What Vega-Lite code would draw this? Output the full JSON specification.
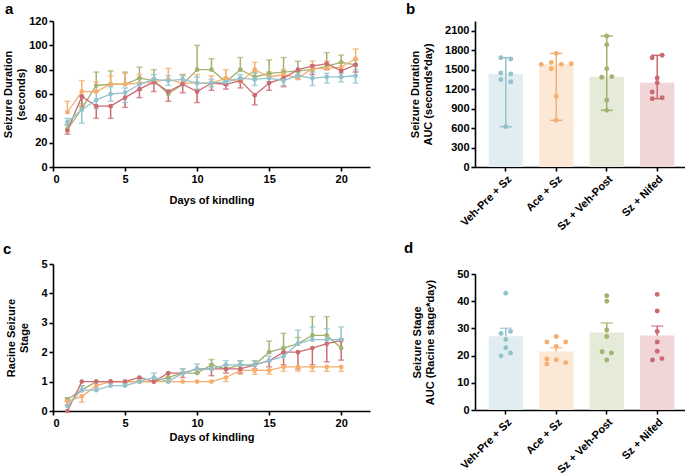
{
 "$schema": "https://vega.github.io/schema/vega-lite/v6.json",
 "padding": {"left": 2, "top": 2, "right": 0, "bottom": 0},
 "background": "white",
 "datasets": {
  "dur": [
   {"g":"Sz + Veh-Post","day":1,"m":31,"up":35},{"g":"Sz + Veh-Post","day":2,"m":48,"up":52},{"g":"Sz + Veh-Post","day":3,"m":67,"up":78},{"g":"Sz + Veh-Post","day":4,"m":68,"up":79},{"g":"Sz + Veh-Post","day":5,"m":68,"up":78},{"g":"Sz + Veh-Post","day":6,"m":73,"up":82},{"g":"Sz + Veh-Post","day":7,"m":71,"up":80},{"g":"Sz + Veh-Post","day":8,"m":60,"up":63},{"g":"Sz + Veh-Post","day":9,"m":68,"up":76},{"g":"Sz + Veh-Post","day":10,"m":80,"up":100},{"g":"Sz + Veh-Post","day":11,"m":80,"up":89},{"g":"Sz + Veh-Post","day":12,"m":70,"up":73},{"g":"Sz + Veh-Post","day":13,"m":80,"up":90},{"g":"Sz + Veh-Post","day":14,"m":74,"up":78},{"g":"Sz + Veh-Post","day":15,"m":77,"up":88},{"g":"Sz + Veh-Post","day":16,"m":78,"up":90},{"g":"Sz + Veh-Post","day":17,"m":79,"up":87},{"g":"Sz + Veh-Post","day":18,"m":80,"up":84},{"g":"Sz + Veh-Post","day":19,"m":83,"up":94},{"g":"Sz + Veh-Post","day":20,"m":86,"up":92},{"g":"Sz + Veh-Post","day":21,"m":84,"up":88},
   {"g":"Ace + Sz","day":1,"m":45,"up":54},{"g":"Ace + Sz","day":2,"m":62,"up":71},{"g":"Ace + Sz","day":3,"m":62,"up":70},{"g":"Ace + Sz","day":4,"m":68,"up":75},{"g":"Ace + Sz","day":5,"m":68,"up":77},{"g":"Ace + Sz","day":6,"m":69,"up":76},{"g":"Ace + Sz","day":7,"m":70,"up":73},{"g":"Ace + Sz","day":8,"m":72,"up":81},{"g":"Ace + Sz","day":9,"m":69,"up":76},{"g":"Ace + Sz","day":10,"m":69,"up":76},{"g":"Ace + Sz","day":11,"m":69,"up":75},{"g":"Ace + Sz","day":12,"m":73,"up":80},{"g":"Ace + Sz","day":13,"m":70,"up":73},{"g":"Ace + Sz","day":14,"m":80,"up":86},{"g":"Ace + Sz","day":15,"m":74,"up":78},{"g":"Ace + Sz","day":16,"m":76,"up":80},{"g":"Ace + Sz","day":17,"m":73,"up":76},{"g":"Ace + Sz","day":18,"m":81,"up":87},{"g":"Ace + Sz","day":19,"m":81,"up":87},{"g":"Ace + Sz","day":20,"m":82,"up":86},{"g":"Ace + Sz","day":21,"m":89,"up":97},
   {"g":"Sz + Nifed","day":1,"m":30,"dn":27},{"g":"Sz + Nifed","day":2,"m":58,"dn":50},{"g":"Sz + Nifed","day":3,"m":50,"dn":40},{"g":"Sz + Nifed","day":4,"m":50,"dn":40},{"g":"Sz + Nifed","day":5,"m":57,"dn":49},{"g":"Sz + Nifed","day":6,"m":64,"dn":57},{"g":"Sz + Nifed","day":7,"m":70,"dn":62},{"g":"Sz + Nifed","day":8,"m":62,"dn":54},{"g":"Sz + Nifed","day":9,"m":68,"dn":61},{"g":"Sz + Nifed","day":10,"m":62,"dn":53},{"g":"Sz + Nifed","day":11,"m":69,"dn":63},{"g":"Sz + Nifed","day":12,"m":68,"dn":64},{"g":"Sz + Nifed","day":13,"m":71,"dn":65},{"g":"Sz + Nifed","day":14,"m":59,"dn":51},{"g":"Sz + Nifed","day":15,"m":69,"dn":63},{"g":"Sz + Nifed","day":16,"m":73,"dn":66},{"g":"Sz + Nifed","day":17,"m":80,"dn":75},{"g":"Sz + Nifed","day":18,"m":83,"dn":76},{"g":"Sz + Nifed","day":19,"m":85,"dn":80},{"g":"Sz + Nifed","day":20,"m":79,"dn":74},{"g":"Sz + Nifed","day":21,"m":84,"dn":78},
   {"g":"Veh-Pre + Sz","day":1,"m":37,"up":40,"dn":34},{"g":"Veh-Pre + Sz","day":2,"m":47,"up":58,"dn":36},{"g":"Veh-Pre + Sz","day":3,"m":55,"up":62,"dn":48},{"g":"Veh-Pre + Sz","day":4,"m":60,"up":66,"dn":54},{"g":"Veh-Pre + Sz","day":5,"m":61,"up":65,"dn":53},{"g":"Veh-Pre + Sz","day":6,"m":68,"up":73,"dn":63},{"g":"Veh-Pre + Sz","day":7,"m":72,"up":76,"dn":68},{"g":"Veh-Pre + Sz","day":8,"m":71,"up":75,"dn":67},{"g":"Veh-Pre + Sz","day":9,"m":72,"up":75,"dn":69},{"g":"Veh-Pre + Sz","day":10,"m":69,"up":74,"dn":64},{"g":"Veh-Pre + Sz","day":11,"m":69,"up":72,"dn":66},{"g":"Veh-Pre + Sz","day":12,"m":70,"up":73,"dn":67},{"g":"Veh-Pre + Sz","day":13,"m":73,"up":76,"dn":70},{"g":"Veh-Pre + Sz","day":14,"m":72,"up":77,"dn":67},{"g":"Veh-Pre + Sz","day":15,"m":73,"up":76,"dn":70},{"g":"Veh-Pre + Sz","day":16,"m":71,"up":75,"dn":67},{"g":"Veh-Pre + Sz","day":17,"m":75,"up":78,"dn":72},{"g":"Veh-Pre + Sz","day":18,"m":73,"up":78,"dn":67},{"g":"Veh-Pre + Sz","day":19,"m":74,"up":77,"dn":69},{"g":"Veh-Pre + Sz","day":20,"m":74,"up":77,"dn":70},{"g":"Veh-Pre + Sz","day":21,"m":75,"up":80,"dn":69}
  ],
  "stage": [
   {"g":"Sz + Veh-Post","day":1,"m":0.40,"up":0.45},{"g":"Sz + Veh-Post","day":2,"m":0.71,"up":0.86},{"g":"Sz + Veh-Post","day":3,"m":1.0},{"g":"Sz + Veh-Post","day":4,"m":1.0},{"g":"Sz + Veh-Post","day":5,"m":1.0},{"g":"Sz + Veh-Post","day":6,"m":1.0},{"g":"Sz + Veh-Post","day":7,"m":1.0},{"g":"Sz + Veh-Post","day":8,"m":1.14,"up":1.29},{"g":"Sz + Veh-Post","day":9,"m":1.29,"up":1.43},{"g":"Sz + Veh-Post","day":10,"m":1.29,"up":1.43},{"g":"Sz + Veh-Post","day":11,"m":1.57,"up":1.75},{"g":"Sz + Veh-Post","day":12,"m":1.43,"up":1.57},{"g":"Sz + Veh-Post","day":13,"m":1.57,"up":1.71},{"g":"Sz + Veh-Post","day":14,"m":1.57,"up":1.71},{"g":"Sz + Veh-Post","day":15,"m":2.0,"up":2.38},{"g":"Sz + Veh-Post","day":16,"m":2.14,"up":2.64},{"g":"Sz + Veh-Post","day":17,"m":2.29,"up":2.5},{"g":"Sz + Veh-Post","day":18,"m":2.57,"up":3.21},{"g":"Sz + Veh-Post","day":19,"m":2.57,"up":3.21},{"g":"Sz + Veh-Post","day":20,"m":2.14,"up":2.45},
   {"g":"Ace + Sz","day":1,"m":0.33,"dn":0.2},{"g":"Ace + Sz","day":2,"m":0.5,"dn":0.3},{"g":"Ace + Sz","day":3,"m":0.86},{"g":"Ace + Sz","day":4,"m":1.0},{"g":"Ace + Sz","day":5,"m":1.0},{"g":"Ace + Sz","day":6,"m":1.0},{"g":"Ace + Sz","day":7,"m":1.0},{"g":"Ace + Sz","day":8,"m":1.0},{"g":"Ace + Sz","day":9,"m":1.0},{"g":"Ace + Sz","day":10,"m":1.0},{"g":"Ace + Sz","day":11,"m":1.0},{"g":"Ace + Sz","day":12,"m":1.14,"dn":1.0},{"g":"Ace + Sz","day":13,"m":1.38,"dn":1.25},{"g":"Ace + Sz","day":14,"m":1.38,"dn":1.25},{"g":"Ace + Sz","day":15,"m":1.38,"dn":1.25},{"g":"Ace + Sz","day":16,"m":1.5,"dn":1.35},{"g":"Ace + Sz","day":17,"m":1.5,"dn":1.35},{"g":"Ace + Sz","day":18,"m":1.5,"dn":1.35},{"g":"Ace + Sz","day":19,"m":1.5,"dn":1.35},{"g":"Ace + Sz","day":20,"m":1.5,"dn":1.35},
   {"g":"Sz + Nifed","day":1,"m":0.0},{"g":"Sz + Nifed","day":2,"m":1.0},{"g":"Sz + Nifed","day":3,"m":1.0},{"g":"Sz + Nifed","day":4,"m":1.0},{"g":"Sz + Nifed","day":5,"m":1.0},{"g":"Sz + Nifed","day":6,"m":1.14,"dn":1.0},{"g":"Sz + Nifed","day":7,"m":1.0},{"g":"Sz + Nifed","day":8,"m":1.29,"dn":1.14},{"g":"Sz + Nifed","day":9,"m":1.29,"dn":1.14},{"g":"Sz + Nifed","day":10,"m":1.43,"dn":1.29},{"g":"Sz + Nifed","day":11,"m":1.43,"dn":1.2},{"g":"Sz + Nifed","day":12,"m":1.43,"dn":1.29},{"g":"Sz + Nifed","day":13,"m":1.43,"dn":1.29},{"g":"Sz + Nifed","day":14,"m":1.57,"dn":1.43},{"g":"Sz + Nifed","day":15,"m":1.71,"dn":1.5},{"g":"Sz + Nifed","day":16,"m":2.0,"dn":1.57},{"g":"Sz + Nifed","day":17,"m":2.0,"dn":1.43},{"g":"Sz + Nifed","day":18,"m":2.14,"dn":1.57},{"g":"Sz + Nifed","day":19,"m":2.29,"dn":1.67},{"g":"Sz + Nifed","day":20,"m":2.4,"dn":1.73},
   {"g":"Veh-Pre + Sz","day":1,"m":0.17,"up":0.33},{"g":"Veh-Pre + Sz","day":2,"m":0.71,"up":0.86},{"g":"Veh-Pre + Sz","day":3,"m":0.71,"up":0.8},{"g":"Veh-Pre + Sz","day":4,"m":0.86,"up":0.95},{"g":"Veh-Pre + Sz","day":5,"m":0.86,"up":0.95},{"g":"Veh-Pre + Sz","day":6,"m":1.0,"up":1.05},{"g":"Veh-Pre + Sz","day":7,"m":1.14,"up":1.29},{"g":"Veh-Pre + Sz","day":8,"m":1.0,"up":1.1},{"g":"Veh-Pre + Sz","day":9,"m":1.29,"up":1.43},{"g":"Veh-Pre + Sz","day":10,"m":1.43,"up":1.6},{"g":"Veh-Pre + Sz","day":11,"m":1.43,"up":1.6},{"g":"Veh-Pre + Sz","day":12,"m":1.57,"up":1.71},{"g":"Veh-Pre + Sz","day":13,"m":1.57,"up":1.71},{"g":"Veh-Pre + Sz","day":14,"m":1.57,"up":1.71},{"g":"Veh-Pre + Sz","day":15,"m":1.71,"up":1.86},{"g":"Veh-Pre + Sz","day":16,"m":1.86,"up":2.14},{"g":"Veh-Pre + Sz","day":17,"m":2.29,"up":2.75},{"g":"Veh-Pre + Sz","day":18,"m":2.43,"up":2.86},{"g":"Veh-Pre + Sz","day":19,"m":2.43,"up":2.8},{"g":"Veh-Pre + Sz","day":20,"m":2.43,"up":2.86}
  ],
  "aucDur": [
   {"g":"Veh-Pre + Sz","v":1688,"j":-1},{"g":"Veh-Pre + Sz","v":1668,"j":1},{"g":"Veh-Pre + Sz","v":1452,"j":-1},{"g":"Veh-Pre + Sz","v":1436,"j":1},{"g":"Veh-Pre + Sz","v":1349,"j":-1},{"g":"Veh-Pre + Sz","v":1317,"j":1},{"g":"Veh-Pre + Sz","v":623,"j":0},
   {"g":"Ace + Sz","v":1755,"j":0},{"g":"Ace + Sz","v":1585,"j":-3},{"g":"Ace + Sz","v":1616,"j":-1},{"g":"Ace + Sz","v":1585,"j":1},{"g":"Ace + Sz","v":1595,"j":3},{"g":"Ace + Sz","v":1518,"j":-1},{"g":"Ace + Sz","v":1091,"j":0},{"g":"Ace + Sz","v":721,"j":0},
   {"g":"Sz + Veh-Post","v":2023,"j":0},{"g":"Sz + Veh-Post","v":1889,"j":0},{"g":"Sz + Veh-Post","v":1518,"j":0},{"g":"Sz + Veh-Post","v":1385,"j":-1},{"g":"Sz + Veh-Post","v":1395,"j":1},{"g":"Sz + Veh-Post","v":1030,"j":0},{"g":"Sz + Veh-Post","v":875,"j":0},
   {"g":"Sz + Nifed","v":1688,"j":-1},{"g":"Sz + Nifed","v":1725,"j":1},{"g":"Sz + Nifed","v":1374,"j":0},{"g":"Sz + Nifed","v":1302,"j":0},{"g":"Sz + Nifed","v":1158,"j":-1},{"g":"Sz + Nifed","v":1055,"j":-1},{"g":"Sz + Nifed","v":1070,"j":1}
  ],
  "aucStage": [
   {"g":"Veh-Pre + Sz","v":42.9,"j":0},{"g":"Veh-Pre + Sz","v":28.9,"j":1},{"g":"Veh-Pre + Sz","v":28.1,"j":-1},{"g":"Veh-Pre + Sz","v":25.9,"j":0},{"g":"Veh-Pre + Sz","v":22.9,"j":0},{"g":"Veh-Pre + Sz","v":21.0,"j":1},{"g":"Veh-Pre + Sz","v":19.9,"j":-1},
   {"g":"Ace + Sz","v":27.0,"j":0},{"g":"Ace + Sz","v":25.0,"j":-2},{"g":"Ace + Sz","v":25.0,"j":2},{"g":"Ace + Sz","v":23.4,"j":0},{"g":"Ace + Sz","v":18.75,"j":-2},{"g":"Ace + Sz","v":18.5,"j":0},{"g":"Ace + Sz","v":17.4,"j":2},{"g":"Ace + Sz","v":16.9,"j":-2},
   {"g":"Sz + Veh-Post","v":42.0,"j":0},{"g":"Sz + Veh-Post","v":40.0,"j":0},{"g":"Sz + Veh-Post","v":29.4,"j":0},{"g":"Sz + Veh-Post","v":27.0,"j":0},{"g":"Sz + Veh-Post","v":21.4,"j":-1},{"g":"Sz + Veh-Post","v":21.0,"j":1},{"g":"Sz + Veh-Post","v":18.4,"j":0},
   {"g":"Sz + Nifed","v":42.5,"j":0},{"g":"Sz + Nifed","v":36.4,"j":0},{"g":"Sz + Nifed","v":28.9,"j":0},{"g":"Sz + Nifed","v":25.0,"j":0},{"g":"Sz + Nifed","v":21.6,"j":0},{"g":"Sz + Nifed","v":18.9,"j":1},{"g":"Sz + Nifed","v":18.4,"j":-1}
  ]
 },
 "hconcat": [
  {
   "spacing": 37,
   "vconcat": [
    {
     "title": {"text": "a", "dx": -48, "offset": -2},
     "width": 317, "height": 146,
     "data": {"name": "dur"},
     "encoding": {
      "x": {"field": "day", "type": "quantitative", "scale": {"domain": [0, 22]}, "axis": {"values": [0, 5, 10, 15, 20], "titlePadding": 10}, "title": "Days of kindling"},
      "color": {"field": "g", "type": "nominal", "scale": {"domain": ["Veh-Pre + Sz", "Ace + Sz", "Sz + Veh-Post", "Sz + Nifed"], "range": ["#92c3cd", "#f5ae6d", "#a2b26f", "#cc6a72"]}, "legend": null}
     },
     "layer": [
      {"mark": {"type": "rule", "strokeWidth": 1.5}, "encoding": {"y": {"field": "up", "type": "quantitative", "scale": {"domain": [0, 120]}, "axis": {"values": [0, 20, 40, 60, 80, 100, 120], "titlePadding": 2, "labelOverlap": false}, "title": ["Seizure Duration", "(seconds)"]}, "y2": {"field": "m"}}},
      {"mark": {"type": "rule", "strokeWidth": 1.5}, "encoding": {"y": {"field": "dn", "type": "quantitative", "axis": {"values": [0, 20, 40, 60, 80, 100, 120], "titlePadding": 2, "labelOverlap": false}, "title": ["Seizure Duration", "(seconds)"]}, "y2": {"field": "m"}}},
      {"mark": {"type": "tick", "orient": "horizontal", "size": 6, "thickness": 1.5}, "encoding": {"y": {"field": "up", "type": "quantitative", "axis": {"values": [0, 20, 40, 60, 80, 100, 120], "titlePadding": 2, "labelOverlap": false}, "title": ["Seizure Duration", "(seconds)"]}}},
      {"mark": {"type": "tick", "orient": "horizontal", "size": 6, "thickness": 1.5}, "encoding": {"y": {"field": "dn", "type": "quantitative", "axis": {"values": [0, 20, 40, 60, 80, 100, 120], "titlePadding": 2, "labelOverlap": false}, "title": ["Seizure Duration", "(seconds)"]}}},
      {"mark": {"type": "line", "strokeWidth": 1.3}, "encoding": {"y": {"field": "m", "type": "quantitative", "axis": {"values": [0, 20, 40, 60, 80, 100, 120], "titlePadding": 2, "labelOverlap": false}, "title": ["Seizure Duration", "(seconds)"]}}},
      {"mark": {"type": "point", "filled": true, "size": 22, "opacity": 1}, "encoding": {"y": {"field": "m", "type": "quantitative", "axis": {"values": [0, 20, 40, 60, 80, 100, 120], "titlePadding": 2, "labelOverlap": false}, "title": ["Seizure Duration", "(seconds)"]}}}
     ]
    },
    {
     "title": {"text": "c", "dx": -50, "offset": 1},
     "width": 317, "height": 147,
     "data": {"name": "stage"},
     "encoding": {
      "x": {"field": "day", "type": "quantitative", "scale": {"domain": [0, 22]}, "axis": {"values": [0, 5, 10, 15, 20], "titlePadding": 3}, "title": "Days of kindling"},
      "color": {"field": "g", "type": "nominal", "scale": {"domain": ["Veh-Pre + Sz", "Ace + Sz", "Sz + Veh-Post", "Sz + Nifed"], "range": ["#92c3cd", "#f5ae6d", "#a2b26f", "#cc6a72"]}, "legend": null}
     },
     "layer": [
      {"mark": {"type": "rule", "strokeWidth": 1.5}, "encoding": {"y": {"field": "up", "type": "quantitative", "scale": {"domain": [0, 5]}, "axis": {"values": [0, 1, 2, 3, 4, 5], "titlePadding": 11, "labelOverlap": false}, "title": ["Racine Seizure", "Stage"]}, "y2": {"field": "m"}}},
      {"mark": {"type": "rule", "strokeWidth": 1.5}, "encoding": {"y": {"field": "dn", "type": "quantitative", "axis": {"values": [0, 1, 2, 3, 4, 5], "titlePadding": 11, "labelOverlap": false}, "title": ["Racine Seizure", "Stage"]}, "y2": {"field": "m"}}},
      {"mark": {"type": "tick", "orient": "horizontal", "size": 6, "thickness": 1.5}, "encoding": {"y": {"field": "up", "type": "quantitative", "axis": {"values": [0, 1, 2, 3, 4, 5], "titlePadding": 11, "labelOverlap": false}, "title": ["Racine Seizure", "Stage"]}}},
      {"mark": {"type": "tick", "orient": "horizontal", "size": 6, "thickness": 1.5}, "encoding": {"y": {"field": "dn", "type": "quantitative", "axis": {"values": [0, 1, 2, 3, 4, 5], "titlePadding": 11, "labelOverlap": false}, "title": ["Racine Seizure", "Stage"]}}},
      {"mark": {"type": "line", "strokeWidth": 1.3}, "encoding": {"y": {"field": "m", "type": "quantitative", "axis": {"values": [0, 1, 2, 3, 4, 5], "titlePadding": 11, "labelOverlap": false}, "title": ["Racine Seizure", "Stage"]}}},
      {"mark": {"type": "point", "filled": true, "size": 22, "opacity": 1}, "encoding": {"y": {"field": "m", "type": "quantitative", "axis": {"values": [0, 1, 2, 3, 4, 5], "titlePadding": 11, "labelOverlap": false}, "title": ["Racine Seizure", "Stage"]}}}
     ]
    }
   ]
  },
  {
   "spacing": 8,
   "vconcat": [
    {
     "title": {"text": "b", "dx": -69, "offset": 4},
     "width": 213, "height": 146,
     "data": {"name": "aucDur"},
     "encoding": {
      "x": {"field": "g", "type": "nominal", "sort": ["Veh-Pre + Sz", "Ace + Sz", "Sz + Veh-Post", "Sz + Nifed"], "scale": {"paddingInner": 0.32, "paddingOuter": 0.27}, "axis": {"labelAngle": -45}, "title": null},
      "color": {"field": "g", "type": "nominal", "scale": {"domain": ["Veh-Pre + Sz", "Ace + Sz", "Sz + Veh-Post", "Sz + Nifed"], "range": ["#92c3cd", "#f5ae6d", "#a2b26f", "#cc6a72"]}, "legend": null}
     },
     "layer": [
      {"mark": {"type": "bar"}, "encoding": {"y": {"aggregate": "median", "field": "v", "type": "quantitative", "scale": {"domain": [0, 2254.4], "nice": false}, "axis": {"values": [0, 300, 600, 900, 1200, 1500, 1800, 2100], "format": "d", "titlePadding": 11}, "title": ["Seizure Duration", "AUC (seconds*day)"]}, "color": {"value": null}, "fill": {"field": "g", "type": "nominal", "scale": {"domain": ["Veh-Pre + Sz", "Ace + Sz", "Sz + Veh-Post", "Sz + Nifed"], "range": ["#e1eef1", "#fce8d6", "#e6ead8", "#f1d6d8"]}, "legend": null}}},
      {"mark": {"type": "rule", "strokeWidth": 1.5}, "encoding": {"y": {"aggregate": "min", "field": "v", "type": "quantitative", "axis": {"values": [0, 300, 600, 900, 1200, 1500, 1800, 2100], "format": "d", "titlePadding": 11}, "title": ["Seizure Duration", "AUC (seconds*day)"]}, "y2": {"aggregate": "max", "field": "v"}}},
      {"mark": {"type": "tick", "orient": "horizontal", "size": 12, "thickness": 1.5}, "encoding": {"y": {"aggregate": "min", "field": "v", "type": "quantitative", "axis": {"values": [0, 300, 600, 900, 1200, 1500, 1800, 2100], "format": "d", "titlePadding": 11}, "title": ["Seizure Duration", "AUC (seconds*day)"]}}},
      {"mark": {"type": "tick", "orient": "horizontal", "size": 12, "thickness": 1.5}, "encoding": {"y": {"aggregate": "max", "field": "v", "type": "quantitative", "axis": {"values": [0, 300, 600, 900, 1200, 1500, 1800, 2100], "format": "d", "titlePadding": 11}, "title": ["Seizure Duration", "AUC (seconds*day)"]}}},
      {"transform": [{"filter": "datum.j == -3"}], "mark": {"type": "point", "filled": true, "size": 24, "opacity": 1, "xOffset": -15}, "encoding": {"y": {"field": "v", "type": "quantitative", "axis": {"values": [0, 300, 600, 900, 1200, 1500, 1800, 2100], "format": "d", "titlePadding": 11}, "title": ["Seizure Duration", "AUC (seconds*day)"]}}},
      {"transform": [{"filter": "datum.j == -1"}], "mark": {"type": "point", "filled": true, "size": 24, "opacity": 1, "xOffset": -5}, "encoding": {"y": {"field": "v", "type": "quantitative", "axis": {"values": [0, 300, 600, 900, 1200, 1500, 1800, 2100], "format": "d", "titlePadding": 11}, "title": ["Seizure Duration", "AUC (seconds*day)"]}}},
      {"transform": [{"filter": "datum.j == 0"}], "mark": {"type": "point", "filled": true, "size": 24, "opacity": 1}, "encoding": {"y": {"field": "v", "type": "quantitative", "axis": {"values": [0, 300, 600, 900, 1200, 1500, 1800, 2100], "format": "d", "titlePadding": 11}, "title": ["Seizure Duration", "AUC (seconds*day)"]}}},
      {"transform": [{"filter": "datum.j == 1"}], "mark": {"type": "point", "filled": true, "size": 24, "opacity": 1, "xOffset": 5}, "encoding": {"y": {"field": "v", "type": "quantitative", "axis": {"values": [0, 300, 600, 900, 1200, 1500, 1800, 2100], "format": "d", "titlePadding": 11}, "title": ["Seizure Duration", "AUC (seconds*day)"]}}},
      {"transform": [{"filter": "datum.j == 3"}], "mark": {"type": "point", "filled": true, "size": 24, "opacity": 1, "xOffset": 15}, "encoding": {"y": {"field": "v", "type": "quantitative", "axis": {"values": [0, 300, 600, 900, 1200, 1500, 1800, 2100], "format": "d", "titlePadding": 11}, "title": ["Seizure Duration", "AUC (seconds*day)"]}}}
     ]
    },
    {
     "title": {"text": "d", "dx": -71, "offset": 12},
     "width": 213, "height": 136,
     "data": {"name": "aucStage"},
     "encoding": {
      "x": {"field": "g", "type": "nominal", "sort": ["Veh-Pre + Sz", "Ace + Sz", "Sz + Veh-Post", "Sz + Nifed"], "scale": {"paddingInner": 0.32, "paddingOuter": 0.27}, "axis": {"labelAngle": -45}, "title": null},
      "color": {"field": "g", "type": "nominal", "scale": {"domain": ["Veh-Pre + Sz", "Ace + Sz", "Sz + Veh-Post", "Sz + Nifed"], "range": ["#92c3cd", "#f5ae6d", "#a2b26f", "#cc6a72"]}, "legend": null}
     },
     "layer": [
      {"mark": {"type": "errorbar", "extent": "stderr", "ticks": true, "size": 12, "thickness": 1.5}, "encoding": {"y": {"field": "v", "type": "quantitative", "scale": {"domain": [0, 50]}, "axis": {"values": [0, 10, 20, 30, 40, 50], "titlePadding": 21}, "title": ["Seizure Stage", "AUC (Racine stage*day)"]}}},
      {"mark": {"type": "bar"}, "encoding": {"y": {"aggregate": "mean", "field": "v", "type": "quantitative", "axis": {"values": [0, 10, 20, 30, 40, 50], "titlePadding": 21}, "title": ["Seizure Stage", "AUC (Racine stage*day)"]}, "color": {"value": null}, "fill": {"field": "g", "type": "nominal", "scale": {"domain": ["Veh-Pre + Sz", "Ace + Sz", "Sz + Veh-Post", "Sz + Nifed"], "range": ["#e1eef1", "#fce8d6", "#e6ead8", "#f1d6d8"]}, "legend": null}}},
      {"transform": [{"filter": "datum.j == -2"}], "mark": {"type": "point", "filled": true, "size": 24, "opacity": 1, "xOffset": -9.4}, "encoding": {"y": {"field": "v", "type": "quantitative", "axis": {"values": [0, 10, 20, 30, 40, 50], "titlePadding": 21}, "title": ["Seizure Stage", "AUC (Racine stage*day)"]}}},
      {"transform": [{"filter": "datum.j == -1"}], "mark": {"type": "point", "filled": true, "size": 24, "opacity": 1, "xOffset": -4.7}, "encoding": {"y": {"field": "v", "type": "quantitative", "axis": {"values": [0, 10, 20, 30, 40, 50], "titlePadding": 21}, "title": ["Seizure Stage", "AUC (Racine stage*day)"]}}},
      {"transform": [{"filter": "datum.j == 0"}], "mark": {"type": "point", "filled": true, "size": 24, "opacity": 1}, "encoding": {"y": {"field": "v", "type": "quantitative", "axis": {"values": [0, 10, 20, 30, 40, 50], "titlePadding": 21}, "title": ["Seizure Stage", "AUC (Racine stage*day)"]}}},
      {"transform": [{"filter": "datum.j == 1"}], "mark": {"type": "point", "filled": true, "size": 24, "opacity": 1, "xOffset": 4.7}, "encoding": {"y": {"field": "v", "type": "quantitative", "axis": {"values": [0, 10, 20, 30, 40, 50], "titlePadding": 21}, "title": ["Seizure Stage", "AUC (Racine stage*day)"]}}},
      {"transform": [{"filter": "datum.j == 2"}], "mark": {"type": "point", "filled": true, "size": 24, "opacity": 1, "xOffset": 9.4}, "encoding": {"y": {"field": "v", "type": "quantitative", "axis": {"values": [0, 10, 20, 30, 40, 50], "titlePadding": 21}, "title": ["Seizure Stage", "AUC (Racine stage*day)"]}}}
     ]
    }
   ]
  }
 ],
 "spacing": 34,
 "config": {
  "font": "Liberation Sans",
  "view": {"stroke": null},
  "axis": {"domainColor": "#000", "domainWidth": 1.6, "tickColor": "#000", "tickWidth": 1.6, "tickSize": 4, "labelFont": "Liberation Sans", "labelFontWeight": "bold", "labelFontSize": 11, "labelColor": "#000", "titleFont": "Liberation Sans", "titleFontWeight": "bold", "titleFontSize": 11, "titleColor": "#000", "grid": false, "labelPadding": 2},
  "title": {"fontSize": 15, "fontWeight": "bold", "anchor": "start", "frame": "group", "color": "#000", "font": "Liberation Sans"}
 }
}
